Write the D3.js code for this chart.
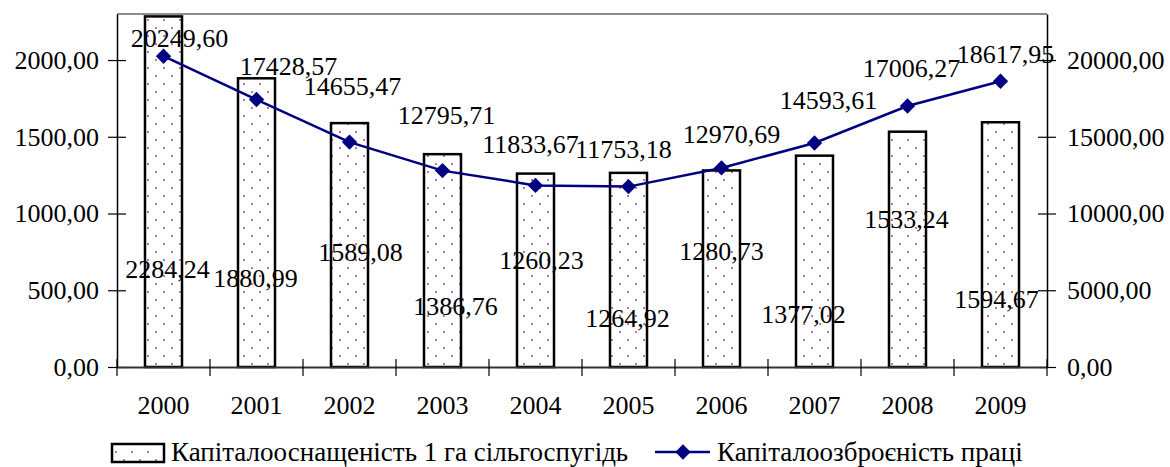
<!DOCTYPE html>
<html>
<head>
<meta charset="utf-8">
<script src="https://cdn.jsdelivr.net/npm/d3@7"></script>
<style>
  html, body { margin: 0; padding: 0; background: #fff; }
  svg { display: block; }
  svg text { font-family: 'Liberation Serif', 'Times New Roman', serif; fill: #000; }
</style>
</head>
<body>
<div id="chart"></div>
<script>
// ---------- data ----------
const years = ["2000","2001","2002","2003","2004","2005","2006","2007","2008","2009"];
const landCapital = [2284.24,1880.99,1589.08,1386.76,1260.23,1264.92,1280.73,1377.02,1533.24,1594.67];
const laborCapital = [20249.60,17428.57,14655.47,12795.71,11833.67,11753.18,12970.69,14593.61,17006.27,18617.95];
const leftTicks = [0,500,1000,1500,2000];
const rightTicks = [0,5000,10000,15000,20000];
const seriesNames = ["Капіталооснащеність 1 га сільгоспугідь", "Капіталоозброєність праці"];

// label placement offsets (px) relative to the mark
const barLabelOffsets = [[4,262],[-1,209],[11,138],[13,161],[6,95],[-1,154],[0,90],[-11,167],[-1,96],[-4,186]];
const lineLabelOffsets = [[16,-9],[32,-25],[3,-47],[4,-47],[-5,-32],[-5,-29],[10,-25],[14,-34],[4,-29],[5,-18]];

const fmt = v => v.toFixed(2).replace(".", ",");

// ---------- layout ----------
const W = 1170, H = 467;
const plot = {left: 117, right: 1047, top: 14, bottom: 367};
const FS = 26;
const FF = "'Liberation Serif', 'Times New Roman', serif";

const svg = d3.select("#chart").append("svg").attr("width", W).attr("height", H)
  .attr("font-family", FF);

const defs = svg.append("defs");
const pat = defs.append("pattern").attr("id","dots")
  .attr("patternUnits","userSpaceOnUse").attr("width",16).attr("height",16);
pat.append("rect").attr("width",16).attr("height",16).attr("fill","#fff");
pat.append("circle").attr("cx",4).attr("cy",4).attr("r",1.1).attr("fill","#b5508a");
pat.append("circle").attr("cx",12).attr("cy",12).attr("r",1.1).attr("fill","#b5508a");

const band = d3.scaleBand().domain(years).range([plot.left, plot.right]);
const yL = d3.scaleLinear().domain([0,2300]).range([plot.bottom, plot.top]);
const yR = d3.scaleLinear().domain([0,23000]).range([plot.bottom, plot.top]);

// top border
svg.append("line").attr("x1",plot.left).attr("x2",plot.right).attr("y1",plot.top).attr("y2",plot.top)
  .attr("stroke","#8c8c8c").attr("stroke-width",2);

// bars
const bw = 37;
svg.append("g").selectAll("rect").data(landCapital).join("rect")
  .attr("x",(d,i)=>band(years[i]) + band.bandwidth()/2 - bw/2)
  .attr("width",bw)
  .attr("y",d=>yL(d))
  .attr("height",d=>yL(0)-yL(d))
  .attr("fill","url(#dots)")
  .attr("stroke","#000").attr("stroke-width",2.5);

function styleAxisText(g){
  g.attr("font-family", FF).attr("font-size", FS);
  g.selectAll("text").attr("font-family", FF).style("font-size",FS+"px").attr("fill","#000");
}

// left axis
const gL = svg.append("g").attr("transform",`translate(${plot.left},0)`)
  .call(d3.axisLeft(yL).tickValues(leftTicks).tickFormat(fmt).tickSize(0).tickPadding(18));
gL.select(".domain").attr("stroke","#000").attr("stroke-width",1.5);
gL.selectAll(".tick line").remove();
gL.selectAll(".tick").append("line").attr("x1",-9).attr("x2",9).attr("stroke","#000").attr("stroke-width",1.2);
styleAxisText(gL);

// right axis
const gR = svg.append("g").attr("transform",`translate(${plot.right},0)`)
  .call(d3.axisRight(yR).tickValues(rightTicks).tickFormat(fmt).tickSize(0).tickPadding(20));
gR.select(".domain").attr("stroke","#000").attr("stroke-width",1.5);
gR.selectAll(".tick line").remove();
gR.selectAll(".tick").append("line").attr("x1",-9).attr("x2",9).attr("stroke","#000").attr("stroke-width",1.2);
styleAxisText(gR);

// bottom axis
const gB = svg.append("g").attr("transform",`translate(0,${plot.bottom})`)
  .call(d3.axisBottom(band).tickSize(0).tickPadding(29));
gB.select(".domain").attr("stroke","#333").attr("stroke-width",2);
styleAxisText(gB);
const bounds = years.map(y=>band(y)).concat([plot.right]);
gB.append("g").selectAll("line").data(bounds).join("line")
  .attr("x1",d=>d).attr("x2",d=>d).attr("y1",-8).attr("y2",9)
  .attr("stroke","#000").attr("stroke-width",1.2);

// line
const cx = i => band(years[i]) + band.bandwidth()/2;
const line = d3.line().x((d,i)=>cx(i)).y(d=>yR(d));
svg.append("path").datum(laborCapital).attr("d",line)
  .attr("fill","none").attr("stroke","#000080").attr("stroke-width",2.5);
const diamond = d3.symbol().type(d3.symbolDiamond2).size(150);
svg.append("g").selectAll("path").data(laborCapital).join("path")
  .attr("d",diamond)
  .attr("transform",(d,i)=>`translate(${cx(i)},${yR(d)})`)
  .attr("fill","#000080");

// bar labels
svg.append("g").selectAll("text").data(landCapital).join("text")
  .attr("x",(d,i)=>cx(i)+barLabelOffsets[i][0])
  .attr("y",(d,i)=>yL(d)+barLabelOffsets[i][1])
  .attr("text-anchor","middle").attr("font-family",FF).style("font-size",FS+"px")
  .text(fmt);

// line labels
svg.append("g").selectAll("text").data(laborCapital).join("text")
  .attr("x",(d,i)=>cx(i)+lineLabelOffsets[i][0])
  .attr("y",(d,i)=>yR(d)+lineLabelOffsets[i][1])
  .attr("text-anchor","middle").attr("font-family",FF).style("font-size",FS+"px")
  .text(fmt);

// legend
const lg = svg.append("g").attr("font-family",FF);
lg.append("rect").attr("x",112).attr("y",444).attr("width",52).attr("height",18)
  .attr("fill","url(#dots)").attr("stroke","#000").attr("stroke-width",2.5);
lg.append("text").attr("x",171).attr("y",461).style("font-size","27px").text(seriesNames[0]);
lg.append("line").attr("x1",655).attr("x2",710).attr("y1",452).attr("y2",452)
  .attr("stroke","#000080").attr("stroke-width",2.5);
lg.append("path").attr("d",diamond).attr("transform","translate(683,452)").attr("fill","#000080");
lg.append("text").attr("x",717).attr("y",461).style("font-size","27px").text(seriesNames[1]);
</script>
</body>
</html>
